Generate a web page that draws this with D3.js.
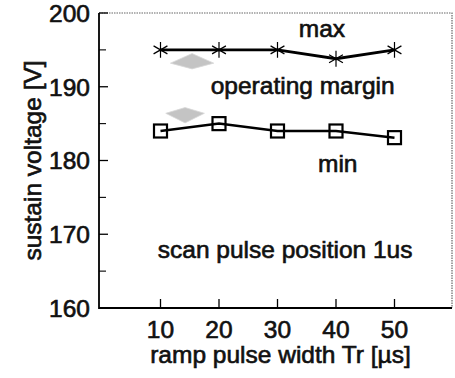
<!DOCTYPE html>
<html>
<head>
<meta charset="utf-8">
<script src="https://cdn.jsdelivr.net/npm/d3@7"></script>
<style>
	body{margin:0;background:#fff}
	text{font-family:"Liberation Sans",Arial,sans-serif;fill:#111}
</style>
</head>
<body>
<svg id="chart" width="455" height="378"></svg>
<script>
const rampWidth = [10, 20, 30, 40, 50],
	maxVoltage = [195, 195, 195, 193.8, 195],
	minVoltage = [184, 185, 184, 184, 183.1],
	xTicks = [10, 20, 30, 40, 50],
	yTicks = [160, 170, 180, 190, 200],
	yMinorTicks = [165, 175, 185, 195]

// notes written on the plot, in data units
const notes = [
	{text: "max", x: 37.6, y: 196.8},
	{text: "operating margin", x: 34.3, y: 189.0},
	{text: "min", x: 40.3, y: 178.4},
	{text: "scan pulse position 1us", x: 31.3, y: 166.8}
]
// grey arrow heads for the margin: [centre x, base y, tip y, half width]
const marginArrows = [[15.4, 193.2, 194.5, 3.7], [14.2, 186.4, 185.1, 3.3]]

const svg = d3.select("#chart"),
	box = {left: 99, right: 452, top: 13, bottom: 308},
	x = d3.scaleLinear().domain([0, 60]).range([102, 453]),
	y = d3.scaleLinear().domain([160, 200]).range([box.bottom, box.top])

// dotted top and right frame
svg.append("path")
	.attr("d", `M${box.left},${box.top}H${box.right}V${box.bottom}`)
	.attr("fill", "none").attr("stroke", "#666")
	.attr("stroke-width", 1.2).attr("stroke-dasharray", "1.5,1")

// left and bottom axis lines
svg.append("path")
	.attr("d", `M${box.left},${box.top}V${box.bottom}H${box.right}`)
	.attr("fill", "none").attr("stroke", "#000").attr("stroke-width", 1.8)

const g = svg.append("g")
g.selectAll("line.ymaj").data(yTicks).enter().append("line")
	.attr("x1", box.left).attr("x2", box.left + 9)
	.attr("y1", d => y(d)).attr("y2", d => y(d))
	.attr("stroke", "#000").attr("stroke-width", 1.3)
g.selectAll("line.ymin").data(yMinorTicks).enter().append("line")
	.attr("x1", box.left).attr("x2", box.left + 7)
	.attr("y1", d => y(d)).attr("y2", d => y(d))
	.attr("stroke", "#000").attr("stroke-width", 1.1)
g.selectAll("line.xmaj").data(xTicks).enter().append("line")
	.attr("x1", d => x(d)).attr("x2", d => x(d))
	.attr("y1", box.bottom).attr("y2", box.bottom - 9)
	.attr("stroke", "#000").attr("stroke-width", 1.3)

const labelStyle = s => s.attr("font-size", 24.5).attr("stroke", "#111").attr("stroke-width", 0.65)

g.selectAll("text.yt").data(yTicks).enter().append("text")
	.attr("x", 90).attr("y", d => y(d)).attr("dy", "0.36em")
	.attr("text-anchor", "end").text(d => d)
	.call(labelStyle)
g.selectAll("text.xt").data(xTicks).enter().append("text")
	.attr("x", d => x(d)).attr("y", 338)
	.attr("text-anchor", "middle").text(d => d)
	.call(labelStyle)

svg.append("text")
	.attr("transform", `translate(41,${(box.top + box.bottom) / 2}) rotate(-90)`)
	.attr("text-anchor", "middle").text("sustain voltage [V]")
	.call(labelStyle)
svg.append("text")
	.attr("x", (box.left + box.right) / 2 + 5).attr("y", 363)
	.attr("text-anchor", "middle").text("ramp pulse width Tr [\u00b5s]")
	.call(labelStyle)

// margin arrows: flat diamonds, pointed end toward the limit line
svg.selectAll("path.arrow").data(marginArrows).enter().append("path")
	.attr("d", ([cx, base, tip, hw]) => {
		const w = x(cx + hw) - x(cx), px = x(cx),
			yb = y(base), yt = y(tip), back = (yb - yt) * 0.6
		return `M${px},${yt}L${px + w},${yb}L${px},${yb + back}L${px - w},${yb}Z`
	})
	.attr("fill", "#c4c4c4").attr("stroke", "#d8d8d8").attr("stroke-width", 0.8)

// data lines
const line = d3.line().x(d => x(d[0])).y(d => y(d[1]))
const maxPts = d3.zip(rampWidth, maxVoltage),
	minPts = d3.zip(rampWidth, minVoltage)
svg.append("path").datum(maxPts).attr("d", line)
	.attr("fill", "none").attr("stroke", "#000").attr("stroke-width", 2.8)
svg.append("path").datum(minPts).attr("d", line)
	.attr("fill", "none").attr("stroke", "#000").attr("stroke-width", 2.5)

svg.selectAll("path.star").data(maxPts).enter().append("path")
	.attr("transform", d => `translate(${x(d[0])},${y(d[1])})`)
	.attr("d", d3.symbol(d3.symbolAsterisk, 180))
	.attr("fill", "none").attr("stroke", "#000").attr("stroke-width", 1.2)
svg.selectAll("rect.sq").data(minPts).enter().append("rect")
	.attr("x", d => x(d[0]) - 6.5).attr("y", d => y(d[1]) - 6.5)
	.attr("width", 13).attr("height", 13)
	.attr("fill", "none").attr("stroke", "#000").attr("stroke-width", 2.2)

svg.selectAll("text.note").data(notes).enter().append("text")
	.attr("x", d => x(d.x)).attr("y", d => y(d.y))
	.attr("text-anchor", "middle").text(d => d.text)
	.call(labelStyle)
</script>
</body>
</html>
